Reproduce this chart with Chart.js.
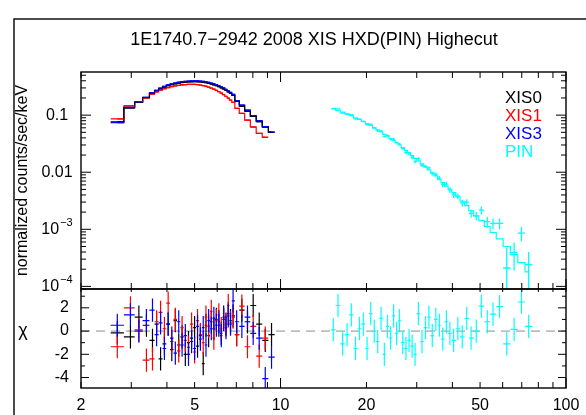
<!DOCTYPE html>
<html>
<head>
<meta charset="utf-8">
<script src="https://cdn.jsdelivr.net/npm/chart.js@4.4.1/dist/chart.umd.min.js"></script>
<style>
  html, body { margin: 0; padding: 0; background: #fff; }
</style>
</head>
<body>
<canvas id="spec" width="586" height="415"></canvas>
<script>
// plot text
const chartTitle = '1E1740.7\u22122942 2008 XIS HXD(PIN) Highecut';
const fluxAxisTitle = 'normalized counts/sec/keV';
const chiAxisTitle = '\u03c7';

// series names (legend order)
const seriesNames = ['XIS0', 'XIS1', 'XIS3', 'PIN'];

// XIS bin centres (keV)
const xisEnergy = [2.68, 2.98, 3.19, 3.39, 3.56, 3.68, 3.80, 3.92, 4.04, 4.16, 4.28, 4.40, 4.52, 4.64, 4.76, 4.88, 5.00, 5.12, 5.24, 5.36, 5.48, 5.60, 5.72, 5.84, 5.96, 6.08, 6.20, 6.32, 6.44, 6.56, 6.68, 6.82, 7.02, 7.32, 7.66, 8.02, 8.42, 8.84, 9.30];

// XIS flux (normalized counts/sec/keV)
const xis0Flux = [0.076, 0.134, 0.168, 0.202, 0.240, 0.266, 0.290, 0.311, 0.328, 0.343, 0.355, 0.365, 0.373, 0.379, 0.383, 0.385, 0.386, 0.385, 0.382, 0.377, 0.370, 0.361, 0.351, 0.340, 0.328, 0.315, 0.301, 0.287, 0.272, 0.256, 0.240, 0.222, 0.174, 0.144, 0.117, 0.095, 0.077, 0.062, 0.050];
const xis1Flux = [0.086, 0.145, 0.172, 0.200, 0.233, 0.255, 0.274, 0.290, 0.303, 0.315, 0.325, 0.333, 0.339, 0.343, 0.345, 0.346, 0.345, 0.342, 0.337, 0.330, 0.321, 0.310, 0.298, 0.285, 0.272, 0.258, 0.244, 0.229, 0.214, 0.199, 0.184, 0.168, 0.131, 0.107, 0.082, 0.062, 0.048, 0.041];
const xis3Flux = [0.074, 0.136, 0.171, 0.205, 0.245, 0.272, 0.298, 0.320, 0.338, 0.354, 0.366, 0.377, 0.386, 0.392, 0.396, 0.399, 0.400, 0.399, 0.396, 0.391, 0.384, 0.375, 0.365, 0.354, 0.342, 0.328, 0.314, 0.300, 0.283, 0.266, 0.250, 0.232, 0.180, 0.150, 0.122, 0.098, 0.080, 0.063, 0.051];

// XIS residuals (chi)
const xis0Chi = [-0.15, -0.5, 1.2, 0.5, -0.8, 0.6, -2.4, -1.1, 0.6, -1.6, 0.9, -1.2, -0.5, -2.0, -1.0, -0.6, 0.3, -1.3, -0.4, -2.8, 0.5, -0.4, 0.8, 0.2, 1.0, 0.5, -0.2, 1.2, 0.6, 1.5, 0.9, 1.3, -0.3, 1.8, 0.8, 2.2, 0.6, -0.8, -0.3];
const xis1Chi = [-1.35, 2.0, 0.1, -2.5, -2.4, 0.8, 1.6, 0.2, 2.4, -0.9, 1.0, -1.7, 0.3, -0.8, -1.4, 0.6, -1.8, 0.9, -0.3, -1.0, 1.2, 0.4, 1.7, -0.6, 0.9, 1.4, 0.2, 1.0, 0.5, 2.2, 0.7, 1.2, -0.3, 2.15, -1.35, 0.4, -2.15, -0.6];
const xis3Chi = [0.5, 1.4, 0.0, 0.9, 1.8, -0.3, 0.7, -1.5, 0.6, -0.6, -1.9, 0.8, -1.2, -0.4, -2.0, -0.9, -1.5, 0.4, -0.7, 0.3, -1.2, 0.9, 0.2, 1.1, 0.5, 0.8, -0.4, 1.0, 0.3, 1.3, 0.6, 2.6, 0.8, 0.4, 1.2, -0.2, -0.6, -4.1, -2.25];

// PIN bin centres (keV), model, data, errors, residuals
const pinEnergy = [15.3, 15.9, 16.5, 17.1, 17.7, 18.3, 18.9, 19.5, 20.1, 20.7, 21.3, 21.9, 22.5, 23.1, 23.7, 24.3, 24.9, 25.5, 26.1, 26.8, 27.5, 28.2, 28.9, 29.6, 30.4, 31.3, 32.2, 33.1, 34.0, 35.0, 36.0, 37.0, 38.1, 39.2, 40.4, 41.8, 43.3, 44.9, 46.5, 48.5, 50.5, 53.0, 55.5, 58.5, 62.0, 65.8, 69.8, 74.0];
const pinModel = [0.130, 0.121, 0.113, 0.105, 0.098, 0.090, 0.084, 0.077, 0.071, 0.066, 0.060, 0.055, 0.051, 0.046, 0.043, 0.039, 0.036, 0.033, 0.030, 0.027, 0.024, 0.022, 0.0195, 0.0175, 0.0158, 0.0140, 0.0124, 0.0110, 0.0098, 0.0086, 0.0075, 0.0066, 0.0057, 0.0050, 0.0044, 0.0037, 0.0031, 0.0026, 0.0021, 0.00172, 0.00142, 0.00112, 0.00088, 0.00068, 0.00050, 0.00036, 0.00026, 0.00018];
const pinFlux = [0.130, 0.129, 0.109, 0.104, 0.102, 0.086, 0.085, 0.078, 0.068, 0.069, 0.060, 0.053, 0.053, 0.042, 0.044, 0.038, 0.038, 0.033, 0.031, 0.026, 0.022, 0.021, 0.018, 0.0153, 0.0173, 0.0132, 0.0126, 0.0119, 0.0095, 0.0092, 0.0079, 0.0061, 0.0062, 0.0049, 0.0040, 0.0038, 0.0029, 0.0030, 0.0019, 0.00172, 0.00217, 0.00136, 0.00127, 0.00127, 0.00021, 0.00039, 0.00086, 0.00024];
const pinErr = [0.0039, 0.0036, 0.0034, 0.0032, 0.0030, 0.0028, 0.0026, 0.0024, 0.0023, 0.0022, 0.0024, 0.0022, 0.0021, 0.0019, 0.0018, 0.0017, 0.0016, 0.0015, 0.0014, 0.0013, 0.0014, 0.0013, 0.0012, 0.0011, 0.0010, 0.0009, 0.0008, 0.00075, 0.0007, 0.00065, 0.0007, 0.00065, 0.0006, 0.00055, 0.0005, 0.00045, 0.0004, 0.00036, 0.0003, 0.00028, 0.00035, 0.0003, 0.00027, 0.00028, 0.00026, 0.0002, 0.00024, 0.00016];
const pinChi = [0.1, 2.2, -1.1, -0.3, 1.4, -1.5, 0.2, 0.6, -1.5, 1.5, 0.0, -0.9, 1.1, -2.0, 0.4, -0.6, 1.3, -0.2, 0.9, -1.0, -1.5, -0.8, -1.3, -2.0, 1.5, -0.9, 0.3, 1.2, -0.4, 1.0, 0.5, -0.7, 0.8, -0.2, -0.8, 0.2, -0.5, 1.1, -0.6, 0.0, 2.15, 0.8, 1.45, 2.1, -1.1, 0.15, 2.5, 0.4];

// tick labels
const energyTicks = [2, 5, 10, 20, 50, 100];
const fluxTicks = [0.1, 0.01, 1e-3, 1e-4];
const fluxTickText = [['0.1', ''], ['0.01', ''], ['10', '\u22123'], ['10', '\u22124']];
const chiTicks = [2, 0, -2, -4];

const colors = ['#000000', '#ff0000', '#0000ff', '#00ffff'];
const font = '"Liberation Sans", Arial, sans-serif';

const spectra = [
  { energy: xisEnergy, flux: xis0Flux, model: xis0Flux, err: null, chi: xis0Chi },
  { energy: xisEnergy.slice(0, xis1Flux.length), flux: xis1Flux, model: xis1Flux, err: null, chi: xis1Chi },
  { energy: xisEnergy, flux: xis3Flux, model: xis3Flux, err: null, chi: xis3Chi },
  { energy: pinEnergy, flux: pinFlux, model: pinModel, err: pinErr, chi: pinChi }
];

const datasets = [];
spectra.forEach((s, k) => {
  datasets.push({
    label: seriesNames[k] + ' model',
    showLine: true,
    stepped: 'middle',
    data: s.energy.map((e, i) => ({ x: e, y: s.model[i] })),
    borderColor: colors[k],
    borderWidth: 1.2,
    pointRadius: 0,
    yAxisID: 'y'
  });
  datasets.push({
    label: seriesNames[k],
    data: s.energy.map((e, i) => ({ x: e, y: s.flux[i] })),
    pointRadius: 0,
    yAxisID: 'y'
  });
  datasets.push({
    label: seriesNames[k] + ' chi',
    data: s.energy.map((e, i) => ({ x: e, y: s.chi[i] })),
    pointRadius: 0,
    yAxisID: 'yr'
  });
});

// bin edges halfway (in log) between neighbouring centres
function binEdges(en) {
  return en.map((e, i) => {
    const lo = i > 0 ? Math.sqrt(en[i - 1] * e) : e * e / Math.sqrt(e * en[i + 1]);
    const hi = i < en.length - 1 ? Math.sqrt(e * en[i + 1]) : e * e / Math.sqrt(en[i - 1] * e);
    return [lo, hi];
  });
}

function clipTo(c, l, t, r, b) {
  c.beginPath();
  c.rect(l, t, r - l, b - t);
  c.clip();
}

function logTicks(min, max) {
  const out = [];
  for (let d = Math.floor(Math.log10(min)); d <= Math.ceil(Math.log10(max)); d++) {
    for (let m = 1; m <= 9; m++) {
      const v = m * Math.pow(10, d);
      if (v >= min * 0.999 && v <= max * 1.001) out.push({ v: v, major: m === 1 });
    }
  }
  return out;
}

const hidden = {
  ticks: { display: false },
  grid: { display: false },
  border: { display: false }
};

const spectrumPlugin = {
  id: 'spectrum',
  beforeDatasetsDraw(chart) {
    const c = chart.ctx;
    const xs = chart.scales.x, yr = chart.scales.yr;
    const y0 = yr.getPixelForValue(0);
    c.save();
    c.strokeStyle = '#8c8c8c';
    c.lineWidth = 1;
    c.setLineDash([9, 6]);
    c.beginPath();
    c.moveTo(xs.left, y0);
    c.lineTo(xs.right, y0);
    c.stroke();
    c.restore();
  },
  afterDatasetsDraw(chart) {
    const c = chart.ctx;
    const xs = chart.scales.x, ys = chart.scales.y, yr = chart.scales.yr;
    spectra.forEach((s, k) => {
      const edges = binEdges(s.energy);
      // data crosses in the spectrum panel
      c.save();
      clipTo(c, xs.left, ys.top, xs.right, ys.bottom);
      c.strokeStyle = colors[k];
      c.lineWidth = 1.3;
      c.beginPath();
      s.energy.forEach((e, i) => {
        const py = ys.getPixelForValue(s.flux[i]);
        c.moveTo(xs.getPixelForValue(edges[i][0]), py);
        c.lineTo(xs.getPixelForValue(edges[i][1]), py);
        if (s.err) {
          const px = xs.getPixelForValue(e);
          const lo = Math.max(s.flux[i] - s.err[i], ys.min * 0.01);
          c.moveTo(px, ys.getPixelForValue(lo));
          c.lineTo(px, ys.getPixelForValue(s.flux[i] + s.err[i]));
        }
      });
      c.stroke();
      c.restore();
      // residual crosses, error of one sigma
      c.save();
      clipTo(c, xs.left, yr.top, xs.right, yr.bottom);
      c.strokeStyle = colors[k];
      c.lineWidth = 1.2;
      c.beginPath();
      s.energy.forEach((e, i) => {
        const px = xs.getPixelForValue(e);
        const py = yr.getPixelForValue(s.chi[i]);
        c.moveTo(xs.getPixelForValue(edges[i][0]), py);
        c.lineTo(xs.getPixelForValue(edges[i][1]), py);
        c.moveTo(px, yr.getPixelForValue(s.chi[i] - 1));
        c.lineTo(px, yr.getPixelForValue(s.chi[i] + 1));
      });
      c.stroke();
      c.restore();
    });
  },
  afterDraw(chart) {
    const c = chart.ctx;
    const xs = chart.scales.x, ys = chart.scales.y, yr = chart.scales.yr;
    const L = xs.left, R = xs.right;
    c.save();
    c.strokeStyle = '#000';
    c.lineWidth = 1.4;
    // outer frame
    c.strokeRect(14, 19, 620, 420);
    // panel frames
    c.strokeRect(L, ys.top, R - L, ys.bottom - ys.top);
    c.strokeRect(L, yr.top, R - L, yr.bottom - yr.top);

    c.lineWidth = 1;
    c.beginPath();
    // energy ticks on all horizontal axes
    logTicks(xs.min, xs.max).forEach(t => {
      const px = xs.getPixelForValue(t.v);
      const len = t.major ? 10 : 6;
      c.moveTo(px, ys.top); c.lineTo(px, ys.top + len);
      c.moveTo(px, ys.bottom); c.lineTo(px, ys.bottom - len);
      c.moveTo(px, yr.top); c.lineTo(px, yr.top + 3);
      c.moveTo(px, yr.bottom); c.lineTo(px, yr.bottom - len);
    });
    // flux ticks left and right
    logTicks(ys.min, ys.max).forEach(t => {
      const py = ys.getPixelForValue(t.v);
      const len = t.major ? 10 : 5;
      c.moveTo(L, py); c.lineTo(L + len, py);
      c.moveTo(R, py); c.lineTo(R - len, py);
    });
    // chi ticks
    for (let v = Math.ceil(yr.min); v <= Math.floor(yr.max); v++) {
      const py = yr.getPixelForValue(v);
      const len = v % 2 === 0 ? 8 : 4;
      c.moveTo(L, py); c.lineTo(L + len, py);
      c.moveTo(R, py); c.lineTo(R - len, py);
    }
    c.stroke();

    // title
    c.fillStyle = '#000';
    c.textBaseline = 'middle';
    c.textAlign = 'center';
    c.font = '18px ' + font;
    c.fillText(chartTitle, 314, 40);

    // energy labels
    c.font = '16px ' + font;
    energyTicks.forEach(v => {
      c.fillText(String(v), xs.getPixelForValue(v), 406);
    });

    // flux labels, with raised exponent
    fluxTicks.forEach((v, i) => {
      const py = ys.getPixelForValue(v);
      const base = fluxTickText[i][0], sup = fluxTickText[i][1];
      c.font = '16px ' + font;
      const wb = c.measureText(base).width;
      c.font = '11px ' + font;
      const ws = sup ? c.measureText(sup).width + 1 : 0;
      const x0 = 57 - (wb + ws) / 2;
      c.textAlign = 'left';
      c.font = '16px ' + font;
      c.fillText(base, x0, py);
      if (sup) {
        c.font = '11px ' + font;
        c.fillText(sup, x0 + wb + 1, py - 6);
      }
    });

    // chi labels
    c.textAlign = 'right';
    c.font = '16px ' + font;
    chiTicks.forEach(v => {
      c.fillText(String(v), 69, yr.getPixelForValue(v));
    });

    // axis titles
    c.textAlign = 'center';
    c.save();
    c.translate(23, (ys.top + ys.bottom) / 2);
    c.rotate(-Math.PI / 2);
    c.fillText(fluxAxisTitle, 0, 0);
    c.restore();
    c.font = '18px ' + font;
    c.fillText(chiAxisTitle, 23, 331);

    // legend
    c.textAlign = 'left';
    c.font = '17px ' + font;
    seriesNames.forEach((n, i) => {
      c.fillStyle = colors[i];
      c.fillText(n, 505, 98 + i * 18);
    });
    c.restore();
  }
};

new Chart(document.getElementById('spec'), {
  type: 'scatter',
  data: { datasets: datasets },
  options: {
    responsive: false,
    animation: false,
    layout: { padding: { left: 81, right: 20, top: 72, bottom: 27 } },
    plugins: {
      legend: { display: false },
      tooltip: { enabled: false },
      title: { display: false }
    },
    scales: {
      x: Object.assign({
        type: 'logarithmic', min: 2, max: 100, position: 'bottom',
        afterFit: s => { s.height = 0; }
      }, hidden),
      y: Object.assign({
        type: 'logarithmic', min: 9e-5, max: 0.57, position: 'left',
        stack: 'panels', stackWeight: 217, weight: 2,
        afterFit: s => { s.width = 0; }
      }, hidden),
      yr: Object.assign({
        type: 'linear', min: -4.9, max: 3.62, position: 'left',
        stack: 'panels', stackWeight: 99, weight: 1,
        afterFit: s => { s.width = 0; }
      }, hidden)
    }
  },
  plugins: [spectrumPlugin]
});
</script>
</body>
</html>
